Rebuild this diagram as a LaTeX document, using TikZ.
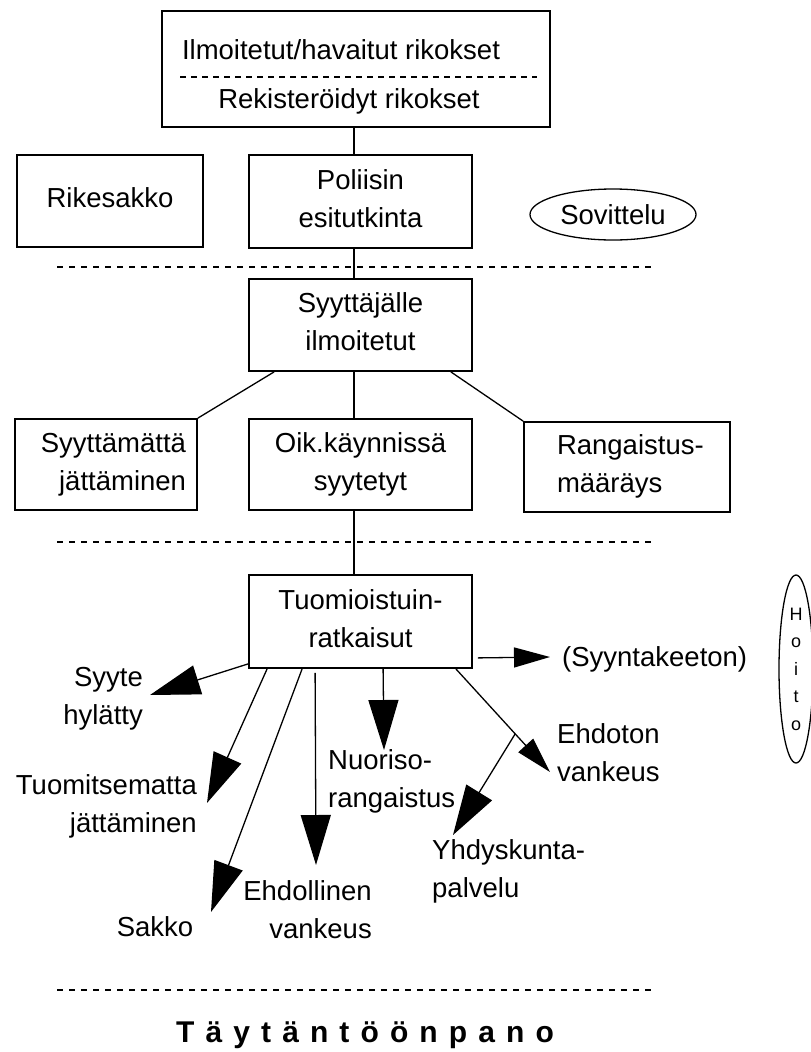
\documentclass[tikz,border=0pt]{standalone}
\usepackage{fontspec}
\setmainfont{Liberation Sans}
\newfontfamily\spacedfont[LetterSpace=37]{Liberation Sans}
\usetikzlibrary{arrows.meta,shapes.geometric,calc}
\newcommand\mystrut{\rule[-7bp]{0pt}{27bp}}
\begin{document}
\begin{tikzpicture}[x=1bp,y=-1bp,
  box/.style={draw, line width=1.8bp, rectangle, inner sep=0pt, font=\fontsize{27.5bp}{38bp}\selectfont},
  conn/.style={line width=1.3bp},
  bigarrow/.style={line width=1.3bp, -{Triangle[length=50bp,width=30bp]}},
  smallarrow/.style={line width=1.3bp, -{Triangle[length=36bp,width=20bp]}},
  sepline/.style={line width=1.8bp, dash pattern=on 6bp off 6bp},
  lbl/.style={inner sep=0pt, font=\fontsize{27.5bp}{38bp}\selectfont}]
\fill[white] (0,0) rectangle (811,1052);
\useasboundingbox (0,0) rectangle (811,1052);
\coordinate (vx) at (354,0);

% top box
\node[box, minimum width=388bp, minimum height=116bp] (top) at (356,69) {};
\node[lbl, anchor=base] (t1) at (341,59) {Ilmoitetut/havaitut rikokset};
\node[lbl, anchor=base] (t2) at (349,108) {Rekisteröidyt rikokset};
\draw[line width=1.3bp, dash pattern=on 6bp off 5bp] (180,77) -- (537,77);

% second row
\node[box, minimum width=186bp, minimum height=92bp] (rike) at (110,201) {\mystrut Rikesakko};
\node[box, minimum width=223bp, minimum height=93bp, align=center] (pol) at (360.5,201.5) {\mystrut Poliisin\\\mystrut esitutkinta};
\node[box, ellipse, line width=1.3bp, minimum width=166bp, minimum height=51bp] (sov) at (613,214.5) {Sovittelu};

\draw[sepline] (57,267) -- (656,267);

\node[box, minimum width=223bp, minimum height=92bp, align=center] (syyt) at (360.5,325) {\mystrut Syyttäjälle\\\mystrut ilmoitetut};

\node[box, text width=182bp, minimum height=91bp, align=right] (syjat) at (106,464.5) {\mystrut Syyttämättä\rule{11bp}{0pt}\\\mystrut jättäminen\rule{11bp}{0pt}};
\node[box, minimum width=223bp, minimum height=91bp, align=center] (oik) at (360.5,464.5) {\mystrut Oik.käynnissä\\\mystrut syytetyt};
\node[box, text width=206bp, minimum height=90bp, align=left] (rang) at (627,467) {\rule{33bp}{0pt}\mystrut Rangaistus-\\\rule{33bp}{0pt}\mystrut määräys};

\draw[sepline] (57,542) -- (656,542);

\node[box, minimum width=223bp, minimum height=93bp, align=center] (tuom) at (360.5,621.5) {\mystrut Tuomioistuin-\\\mystrut ratkaisut};

\node[ellipse, draw, line width=1.3bp, minimum width=34bp, minimum height=188bp, inner sep=0pt, align=center, font=\fontsize{18bp}{27.5bp}\selectfont] (hoito) at (796,669) {H\\o\\i\\t\\o};

% connectors
\draw[conn] (top.south -| vx) -- (pol.north -| vx);
\draw[conn] (pol.south -| vx) -- (syyt.north -| vx);
\draw[conn] (syyt.south -| vx) -- (oik.north -| vx);
\draw[conn] (oik.south -| vx) -- (tuom.north -| vx);
\draw[conn] ([xshift=26bp]syyt.south west) -- (syjat.north east);
\draw[conn] ([xshift=-22bp]syyt.south east) -- (rang.north west);

% labels
\node[lbl, align=right, anchor=east] (lsyyte) at (143,699) {\mystrut Syyte\\\mystrut hylätty};
\node[lbl, align=right, anchor=east] (ltuomit) at (197,806.5) {\mystrut Tuomitsematta\\\mystrut jättäminen};
\node[lbl] (lsakko) at (155,930) {\mystrut Sakko};
\node[lbl, align=right, anchor=east] (lehdol) at (372,912.5) {\mystrut Ehdollinen\\\mystrut vankeus};
\node[lbl, align=left, anchor=west] (lnuor) at (328,781.5) {\mystrut Nuoriso-\\\mystrut rangaistus};
\node[lbl, align=left, anchor=west] (lehdot) at (557,756) {\mystrut Ehdoton\\\mystrut vankeus};
\node[lbl, align=left, anchor=west] (lyhd) at (432,871.5) {\mystrut Yhdyskunta-\\\mystrut palvelu};
\node[lbl, anchor=west] (lsyyn) at (562,660) {\mystrut(Syyntakeeton)};

% arrow tips
\coordinate (a1) at (150,695);
\coordinate (a2) at (207,803);
\coordinate (a3) at (211,912);
\coordinate (a4) at (316,865);
\coordinate (a5) at (384,750);
\coordinate (a6) at (550,772);
\coordinate (a8) at (453,835);
\coordinate (a9) at (550,657);

\draw[bigarrow] ([yshift=5bp]tuom.south west) -- (a1);
\draw[bigarrow] ([xshift=19bp]tuom.south west) -- (a2);
\draw[bigarrow] ([xshift=54bp]tuom.south west) -- (a3);
\draw[bigarrow] ([xshift=67bp,yshift=-4bp]tuom.south west) -- (a4);
\draw[bigarrow] ([xshift=135bp]tuom.south west) -- (a5);
\draw[smallarrow] ([xshift=-17bp]tuom.south east) coordinate (e0) -- (a6);
\coordinate (e1) at ($(e0)!0.63!(a6)$);
\draw[bigarrow] (e1) -- (a8);
\draw[smallarrow] ([xshift=5bp,yshift=11bp]tuom.south east) -- (a9);

\draw[sepline] (57,990) -- (656,990);

\node[anchor=base west, inner sep=0pt, font=\spacedfont\bfseries\fontsize{30bp}{36bp}\selectfont] (tayt) at (176,1042) {Täytäntöönpano};
\end{tikzpicture}
\end{document}
